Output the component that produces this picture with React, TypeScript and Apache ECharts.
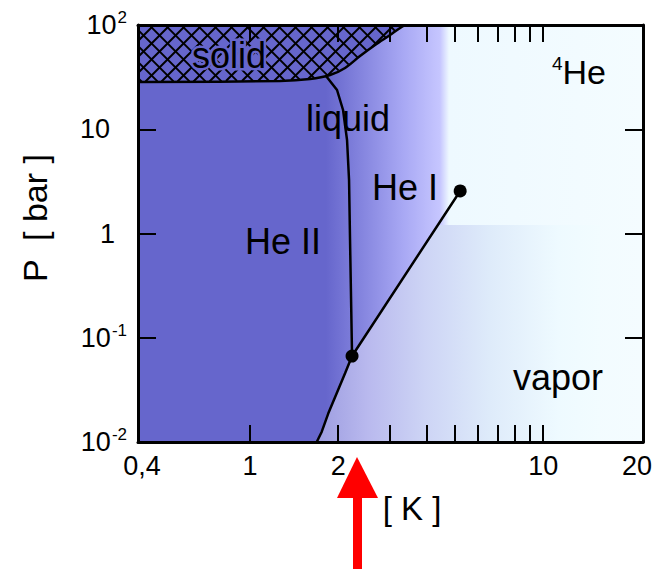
import React, { useEffect, useRef } from 'react';
import * as echarts from 'echarts';

const FONT = '"Liberation Sans", Arial, Helvetica, sans-serif';
const BLUE = '#6666CC';

// axis extents (temperature in K, pressure in bar)
const T_MIN = 0.415;
const T_MAX = 21.9;
const P_MIN = 0.01;
const P_MAX = 100;

// ticks and labels
const T_TICKS = [1, 2, 3, 4, 5, 6, 7, 8, 9, 10];
const T_LABEL_AT = [T_MIN, 1, 2, 10, T_MAX];
const T_LABELS = ['0,4', '1', '2', '10', '20'];
const P_TICKS = [0.1, 1, 10];
const P_LABEL_AT = [0.01, 0.1, 1, 10, 100];
const P_LABEL_BASE = ['10', '10', '1', '10', '10'];
const P_LABEL_EXP = ['-2', '-1', '', '', '2'];

// melting curve (solid / liquid boundary)
const MELT_T = [0.415, 1.266, 1.603, 1.875, 2.11, 2.373, 2.671, 3.005, 3.25, 3.381];
const MELT_P = [28.4, 29.0, 30.3, 33.1, 38.7, 50.4, 64.3, 80.2, 93.6, 100];

// lambda line (He II / He I boundary)
const LAMBDA_T = [1.817, 1.981, 2.077, 2.143, 2.177, 2.194, 2.212, 2.229];
const LAMBDA_P = [32.4, 23.8, 15.3, 7.88, 3.26, 0.866, 0.23, 0.0668];

// vapor pressure curve (liquid / vapor boundary)
const VAPOR_T = [1.689, 1.757, 1.85, 1.976, 2.11, 2.229, 5.21];
const VAPOR_P = [0.01, 0.01256, 0.01884, 0.0293, 0.0456, 0.0668, 2.56];

// vapor shaded box
const VAPOR_BOX_TOP_P = 1.206;
const VAPOR_BOX_RIGHT_T = 15.65;

// lambda point, critical point
const POINT_T = [2.229, 5.21];
const POINT_P = [0.0668, 2.56];

const lg = Math.log10;
const pair = (t: number, p: number) => [lg(t), lg(p)];

function buildOption() {
  const melt = MELT_T.map((t, i) => pair(t, MELT_P[i]));
  const lambda = LAMBDA_T.map((t, i) => pair(t, LAMBDA_P[i]));
  const vapor = VAPOR_T.map((t, i) => pair(t, VAPOR_P[i]));
  const points = POINT_T.map((t, i) => pair(t, POINT_P[i]));

  // vapor region: under the vapor curve, up to the box top, then to the box right
  const n = vapor.length;
  const a = vapor[n - 2];
  const b = vapor[n - 1];
  const tt = (lg(VAPOR_BOX_TOP_P) - a[1]) / (b[1] - a[1]);
  const cross = [a[0] + tt * (b[0] - a[0]), lg(VAPOR_BOX_TOP_P)];
  const vaporArea = [...vapor.slice(0, n - 1), cross, pair(VAPOR_BOX_RIGHT_T, VAPOR_BOX_TOP_P)];

  const xLabelFmt = (v: number) => {
    const i = T_LABEL_AT.findIndex((t) => Math.abs(lg(t) - v) < 1e-4);
    if (i < 0) return '';
    if (i === 0) return `{l|${T_LABELS[i]}}`;
    if (i === T_LABELS.length - 1) return `{r|${T_LABELS[i]}}`;
    return `{n|${T_LABELS[i]}}`;
  };
  const yLabelFmt = (v: number) => {
    const i = P_LABEL_AT.findIndex((p) => Math.abs(lg(p) - v) < 1e-4);
    if (i < 0) return '';
    const base = P_LABEL_BASE[i];
    const exp = P_LABEL_EXP[i];
    if (exp) return `{b|${base}}{s|${exp}}`;
    return base === '1' ? `{b|${base}}{q|}` : `{b|${base}}{p|}`;
  };

  const axisLine = { show: true, onZero: false, lineStyle: { color: '#000', width: 3 } };
  const tickStyle = { color: '#000', width: 2 };

  const xCommon = {
    type: 'value',
    min: lg(T_MIN),
    max: lg(T_MAX),
    z: 10,
    axisLine,
    splitLine: { show: false },
    axisTick: { show: true, inside: true, length: 17, lineStyle: tickStyle, customValues: T_TICKS.map(lg) },
  };
  const yCommon = {
    type: 'value',
    min: lg(P_MIN),
    max: lg(P_MAX),
    z: 10,
    axisLine,
    splitLine: { show: false },
    axisTick: { show: true, inside: true, length: 18, lineStyle: tickStyle, customValues: P_TICKS.map(lg) },
  };

  const txt = (text: string, x: number, y: number, size = 36, halo = false) => ({
    type: 'text',
    x,
    y,
    z: 50,
    silent: true,
    style: {
      text,
      fontSize: size,
      fontFamily: FONT,
      fill: '#000',
      align: 'center',
      verticalAlign: 'middle',
      ...(halo ? { stroke: BLUE, lineWidth: 5 } : {}),
    },
  });

  return {
    animation: false,
    backgroundColor: '#fff',
    grid: {
      left: 138,
      top: 25,
      right: 15,
      bottom: 127,
      show: true,
      borderWidth: 0,
      outerBoundsMode: 'none',
      backgroundColor: {
        type: 'linear',
        x: 0,
        y: 0,
        x2: 1,
        y2: 0,
        colorStops: [
          { offset: 0, color: BLUE },
          { offset: 0.372, color: BLUE },
          { offset: 0.525, color: 'rgb(168,168,244)' },
          { offset: 0.598, color: 'rgb(198,198,255)' },
          { offset: 0.616, color: 'rgb(238,249,255)' },
          { offset: 1, color: 'rgb(244,252,255)' },
        ],
      },
    },
    xAxis: [
      {
        ...xCommon,
        position: 'bottom',
        axisLabel: {
          show: true,
          customValues: T_LABEL_AT.map(lg),
          formatter: xLabelFmt,
          margin: 10,
          color: '#000',
          fontSize: 27,
          fontFamily: FONT,
          rich: {
            n: { fontSize: 27, fontFamily: FONT, color: '#000' },
            l: { fontSize: 27, fontFamily: FONT, color: '#000', padding: [0, 0, 0, 8] },
            r: { fontSize: 27, fontFamily: FONT, color: '#000', padding: [0, 12, 0, 0] },
          },
        },
      },
      { ...xCommon, position: 'top', axisLabel: { show: false } },
    ],
    yAxis: [
      {
        ...yCommon,
        position: 'left',
        axisLabel: {
          show: true,
          customValues: P_LABEL_AT.map(lg),
          formatter: yLabelFmt,
          margin: 11,
          color: '#000',
          fontSize: 27,
          fontFamily: FONT,
          rich: {
            b: { fontSize: 27, fontFamily: FONT, color: '#000', lineHeight: 32 },
            s: { fontSize: 17, fontFamily: FONT, color: '#000', lineHeight: 17, verticalAlign: 'top', padding: [0, 0, 0, 1] },
            p: { width: 17 },
            q: { width: 12 },
          },
        },
      },
      { ...yCommon, position: 'right', axisLabel: { show: false } },
    ],
    series: [
      {
        type: 'line',
        name: 'vapor region',
        data: vaporArea,
        symbol: 'none',
        silent: true,
        z: 1,
        lineStyle: { width: 0, opacity: 0 },
        areaStyle: {
          origin: 'start',
          opacity: 1,
          color: {
            type: 'linear',
            x: 0,
            y: 0,
            x2: 1,
            y2: 0,
            colorStops: [
              { offset: 0, color: 'rgb(156,156,224)' },
              { offset: 0.18, color: 'rgb(185,185,238)' },
              { offset: 0.38, color: 'rgb(205,212,245)' },
              { offset: 0.61, color: 'rgb(222,235,250)' },
              { offset: 0.85, color: 'rgb(238,250,255)' },
              { offset: 1, color: 'rgb(242,252,255)' },
            ],
          },
        },
      },
      {
        type: 'custom',
        name: 'solid',
        coordinateSystem: 'cartesian2d',
        silent: true,
        clip: true,
        z: 2,
        data: [[lg(T_MIN), lg(P_MAX)]],
        renderItem: (params: any, api: any) => {
          const pts = melt.map((d) => api.coord(d));
          const tl = api.coord([lg(T_MIN), lg(P_MAX)]);
          const left = tl[0];
          const top = tl[1];
          const right = pts[pts.length - 1][0];
          let bottom = top;
          pts.forEach((p: number[]) => { if (p[1] > bottom) bottom = p[1]; });
          const f = (x: number) => {
            for (let i = 0; i < pts.length - 1; i++) {
              const [x1, y1] = pts[i];
              const [x2, y2] = pts[i + 1];
              if (x >= x1 && x <= x2) return y1 + ((x - x1) / (x2 - x1 || 1)) * (y2 - y1);
            }
            return top;
          };
          const inside = (x: number, y: number) => x >= left && x <= right && y >= top && y <= f(x);
          const children: any[] = [
            { type: 'polygon', shape: { points: [...pts, [right, top], tl] }, style: { fill: BLUE } },
          ];
          const pitch = 16;
          const step = 0.5;
          const hatch = { stroke: '#000', lineWidth: 2 };
          for (const dir of [1, -1]) {
            const cMin = dir === 1 ? top - right : top + left;
            const cMax = dir === 1 ? bottom - left : bottom + right;
            for (let c = cMin - pitch; c <= cMax + pitch; c += pitch) {
              let start: number[] | null = null;
              let last: number[] | null = null;
              for (let x = left; x <= right + step; x += step) {
                const y = dir === 1 ? x + c : c - x;
                if (inside(x, y)) {
                  if (!start) start = [x, y];
                  last = [x, y];
                } else if (start && last) {
                  children.push({ type: 'line', shape: { x1: start[0], y1: start[1], x2: last[0], y2: last[1] }, style: hatch });
                  start = null;
                  last = null;
                }
              }
              if (start && last) {
                children.push({ type: 'line', shape: { x1: start[0], y1: start[1], x2: last[0], y2: last[1] }, style: hatch });
              }
            }
          }
          return { type: 'group', children };
        },
      },
      { type: 'line', name: 'melting', data: melt, symbol: 'none', smooth: 0.3, z: 3, silent: true, lineStyle: { color: '#000', width: 2.5 } },
      { type: 'line', name: 'lambda', data: lambda, symbol: 'none', z: 3, silent: true, lineStyle: { color: '#000', width: 2.5 } },
      { type: 'line', name: 'vapor', data: vapor, symbol: 'none', z: 3, silent: true, lineStyle: { color: '#000', width: 2.5 } },
      { type: 'scatter', name: 'points', data: points, symbolSize: 13, z: 4, silent: true, itemStyle: { color: '#000', opacity: 1 } },
    ],
    graphic: [
      txt('solid', 229, 55, 36, true),
      txt('liquid', 348, 118),
      txt('He I', 405, 187),
      txt('He II', 283, 241),
      txt('vapor', 558, 377),
      {
        type: 'text',
        x: 579,
        y: 72,
        z: 50,
        silent: true,
        style: {
          text: '{s|4}{b|He}',
          align: 'center',
          verticalAlign: 'middle',
          fill: '#000',
          fontFamily: FONT,
          rich: {
            s: { fontSize: 19, fontFamily: FONT, fill: '#000', lineHeight: 19, verticalAlign: 'top' },
            b: { fontSize: 34, fontFamily: FONT, fill: '#000', lineHeight: 36 },
          },
        },
      },
      {
        type: 'text',
        x: 35,
        y: 218,
        rotation: Math.PI / 2,
        z: 50,
        silent: true,
        style: { text: 'P  [ bar ]', fontSize: 34, fontFamily: FONT, fill: '#000', align: 'center', verticalAlign: 'middle' },
      },
      txt('[ K ]', 412, 508, 33),
      {
        type: 'polygon',
        z: 50,
        silent: true,
        shape: { points: [[357, 457], [337, 498], [378, 498]] },
        style: { fill: '#FF0000' },
      },
      {
        type: 'rect',
        z: 50,
        silent: true,
        shape: { x: 353, y: 496, width: 9, height: 80 },
        style: { fill: '#FF0000' },
      },
    ],
  };
}

export default function App() {
  const ref = useRef<HTMLDivElement>(null);
  useEffect(() => {
    if (!ref.current) return;
    const chart = echarts.init(ref.current, null, { renderer: 'svg' });
    chart.setOption(buildOption() as any);
    return () => chart.dispose();
  }, []);
  return (
    <div
      ref={ref}
      style={{ position: 'fixed', left: 0, top: 0, width: 658, height: 569, background: '#fff' }}
    />
  );
}
